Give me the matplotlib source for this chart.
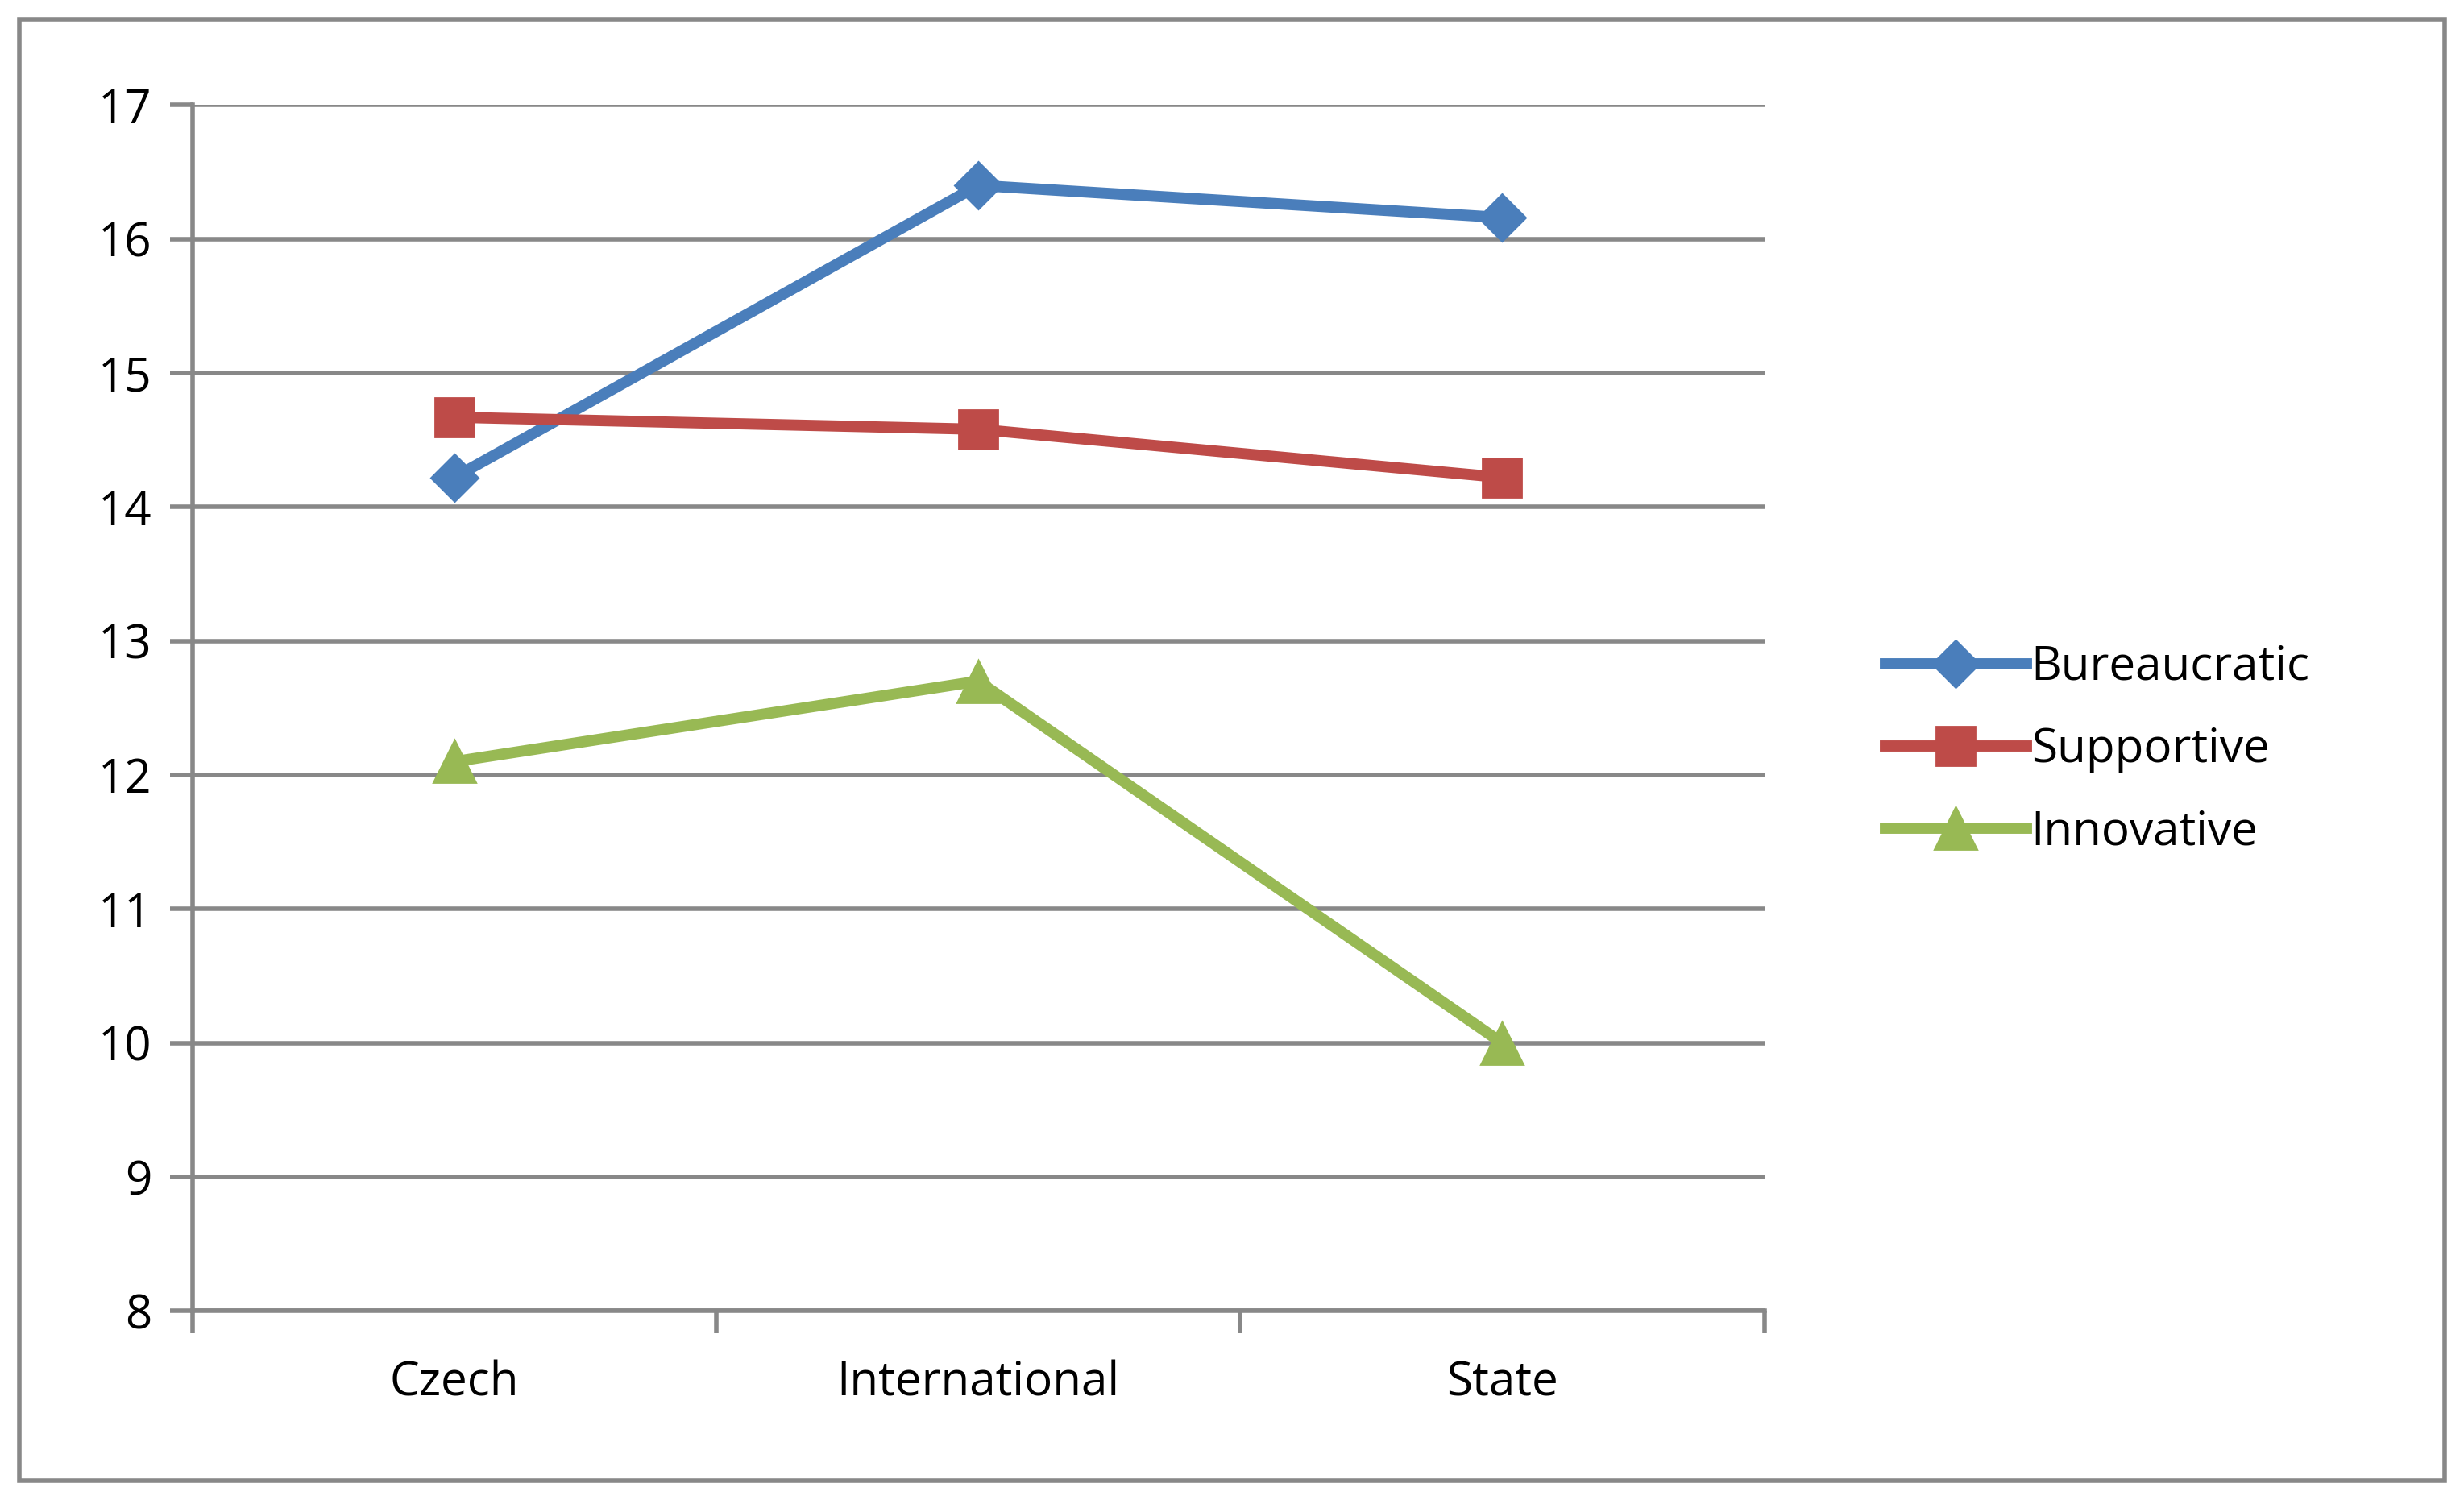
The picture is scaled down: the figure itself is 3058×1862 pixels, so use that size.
import matplotlib
matplotlib.use("Agg")
import matplotlib.pyplot as plt
from matplotlib.patches import Rectangle

categories = ["Czech", "International", "State"]
bureaucratic = [14.22, 16.40, 16.16]
supportive = [14.67, 14.58, 14.22]
innovative = [12.10, 12.70, 10.00]
yticks = [8, 9, 10, 11, 12, 13, 14, 15, 16, 17]

plt.rcParams['font.family'] = ['Open Sans', 'DejaVu Sans']
fig = plt.figure(figsize=(15.29, 9.31), dpi=200)
ax = fig.add_axes([0.078, 0.126, 0.638, 0.804])

x = [0.5, 1.5, 2.5]
ax.plot(x, bureaucratic, color="#4A7EBB", lw=5, marker="D", ms=15, label="Bureaucratic", zorder=3)
ax.plot(x, supportive, color="#BE4B48", lw=5, marker="s", ms=17, label="Supportive", zorder=3)
ax.plot(x, innovative, color="#98B954", lw=5, marker="^", ms=19, label="Innovative", zorder=3)

ax.set_xlim(0, 3)
ax.set_ylim(8, 17)
ax.set_yticks(yticks)
ax.set_yticklabels([str(v) for v in yticks])
ax.set_xticks([0, 1, 2, 3])
ax.set_xticklabels([])
ax.set_xticks(x, minor=True)
ax.set_xticklabels(categories, minor=True)
ax.tick_params(axis='x', which='minor', length=0, pad=22, labelsize=21)
ax.tick_params(axis='x', which='major', length=10, width=2, color="#888888", direction='out')
ax.tick_params(axis='y', length=10, width=2, color="#888888", labelsize=21, pad=8)
ax.grid(axis='y', color="#888888", lw=2)
for s in ['top', 'right']:
    ax.spines[s].set_visible(False)
for s in ['left', 'bottom']:
    ax.spines[s].set_color("#888888")
    ax.spines[s].set_linewidth(2)
ax.set_axisbelow(True)

fig.legend(loc='center left', bbox_to_anchor=(0.748, 0.50), frameon=False,
           fontsize=21, handlelength=3.0, handletextpad=0.1, labelspacing=0.75)

fig.patches.append(Rectangle((0.008, 0.013), 0.984, 0.974, transform=fig.transFigure,
                             fill=False, edgecolor="#888888", lw=2))
fig.savefig("out.png", dpi=200)
